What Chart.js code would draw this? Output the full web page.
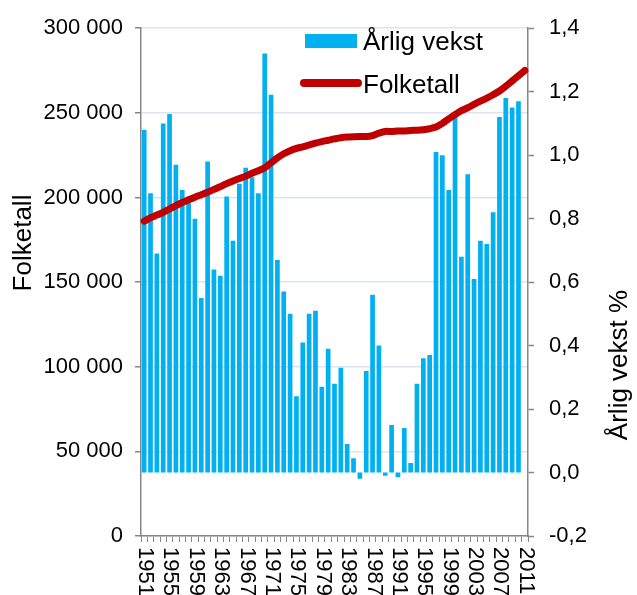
<!DOCTYPE html>
<html>
<head>
<meta charset="utf-8">
<script src="https://cdn.jsdelivr.net/npm/chart.js@4.4.1/dist/chart.umd.min.js"></script>
<style>
  html, body { margin: 0; padding: 0; background: #fff; }
</style>
</head>
<body>
<canvas id="chart" width="637" height="595"></canvas>
<script>
const years = [
  "1951", "1952", "1953", "1954", "1955", "1956", "1957", "1958", "1959", "1960",
  "1961", "1962", "1963", "1964", "1965", "1966", "1967", "1968", "1969", "1970",
  "1971", "1972", "1973", "1974", "1975", "1976", "1977", "1978", "1979", "1980",
  "1981", "1982", "1983", "1984", "1985", "1986", "1987", "1988", "1989", "1990",
  "1991", "1992", "1993", "1994", "1995", "1996", "1997", "1998", "1999", "2000",
  "2001", "2002", "2003", "2004", "2005", "2006", "2007", "2008", "2009", "2010",
  "2011"
];

// årlig vekst i prosent (høyre akse)
const vekst = [
  1.08, 0.88, 0.69, 1.10, 1.13, 0.97, 0.89, 0.85, 0.80, 0.55,
  0.98, 0.64, 0.62, 0.87, 0.73, 0.91, 0.96, 0.93, 0.88, 1.32,
  1.19, 0.67, 0.57, 0.50, 0.24, 0.41, 0.50, 0.51, 0.27, 0.39,
  0.28, 0.33, 0.09, 0.045, -0.02, 0.32, 0.56, 0.40, -0.01, 0.15,
  -0.015, 0.14, 0.03, 0.28, 0.36, 0.37, 1.01, 1.00, 0.89, 1.12,
  0.68, 0.94, 0.61, 0.73, 0.72, 0.82, 1.12, 1.18, 1.15, 1.17,
  null
];

// folketall (venstre akse)
const folketall = [
  186000, 188000, 189600, 191200, 193200, 195200, 197000, 198600, 200200, 201600,
  203100, 204800, 206400, 208200, 209800, 211200, 212600, 214300, 215800, 217600,
  220500, 223400, 225800, 227600, 229000, 229900, 231000, 232100, 233000, 233800,
  234600, 235300, 235700, 235900, 236000, 236000, 236600, 238000, 239000, 239000,
  239300, 239300, 239600, 239700, 240000, 240600, 241600, 243800, 246400, 248900,
  251300, 253000, 255000, 256900, 258700, 260700, 262900, 265700, 268800, 271900,
  275000
];

const labelEvery = 4;
const titleLeft = "Folketall";
const titleRight = "Årlig vekst %";

const FONT = '"Liberation Sans", Arial, sans-serif';
const AXIS_GREY = "#868686";
Chart.defaults.font.family = FONT;
Chart.defaults.color = "#000";

function tusen(v) {
  return String(v).replace(/\B(?=(\d{3})+(?!\d))/g, " ");
}
function komma(v) {
  if (Math.abs(v) < 1e-9) v = 0;
  return v.toFixed(1).replace(".", ",");
}

// årstall (rotert med klokka), aksetitler og forklaring
const extras = {
  id: "extras",
  afterDraw(chart) {
    const ctx = chart.ctx;
    const xs = chart.scales.x;
    ctx.save();
    ctx.fillStyle = "#000";

    ctx.font = "22px " + FONT;
    ctx.textAlign = "left";
    ctx.textBaseline = "middle";
    years.forEach((yr, i) => {
      if (i % labelEvery !== 0) return;
      const px = xs.getPixelForValue(i);
      ctx.save();
      ctx.translate(px + 1, xs.top + 11);
      ctx.rotate(Math.PI / 2);
      ctx.fillText(yr, 0, 0);
      ctx.restore();
    });

    ctx.font = "26px " + FONT;
    ctx.textAlign = "center";
    ctx.save();
    ctx.translate(24, 243);
    ctx.rotate(-Math.PI / 2);
    ctx.fillText(titleLeft, 0, 0);
    ctx.restore();

    ctx.save();
    ctx.translate(620, 365);
    ctx.rotate(-Math.PI / 2);
    ctx.fillText(titleRight, 0, 0);
    ctx.restore();

    // forklaring
    const bar = chart.data.datasets[1];
    const line = chart.data.datasets[0];
    ctx.textAlign = "left";
    ctx.textBaseline = "alphabetic";
    ctx.fillStyle = bar.backgroundColor;
    ctx.fillRect(305, 34, 52, 14);
    ctx.fillStyle = "#000";
    ctx.fillText(bar.label, 363, 50);

    ctx.strokeStyle = line.borderColor;
    ctx.lineWidth = 8;
    ctx.lineCap = "round";
    ctx.beginPath();
    ctx.moveTo(304, 83);
    ctx.lineTo(358, 83);
    ctx.stroke();
    ctx.fillText(line.label, 363, 93);
    ctx.restore();
  }
};

new Chart(document.getElementById("chart"), {
  type: "bar",
  data: {
    labels: years,
    datasets: [
      {
        type: "line",
        label: "Folketall",
        data: folketall,
        yAxisID: "y",
        borderColor: "#c00000",
        borderWidth: 7,
        borderCapStyle: "round",
        pointRadius: 0,
        tension: 0.3,
        order: 0
      },
      {
        type: "bar",
        label: "Årlig vekst",
        data: vekst,
        yAxisID: "y1",
        backgroundColor: "#00b0f0",
        borderWidth: 0,
        barPercentage: 0.74,
        categoryPercentage: 1.0,
        order: 1
      }
    ]
  },
  options: {
    responsive: false,
    animation: false,
    layout: { padding: { top: 24, left: 0, right: 0, bottom: 0 } },
    plugins: { legend: { display: false }, tooltip: { enabled: false } },
    scales: {
      x: {
        offset: true,
        grid: { offset: true, drawOnChartArea: false, tickLength: 6, tickColor: AXIS_GREY, tickWidth: 1 },
        border: { color: AXIS_GREY, width: 1.5 },
        ticks: { display: false },
        afterFit(s) { s.height = 59; }
      },
      y: {
        position: "left",
        min: 0,
        max: 300000,
        ticks: { stepSize: 50000, padding: 12, font: { size: 22 }, color: "#000", callback: v => tusen(v) },
        grid: { color: "#dce4f2", lineWidth: 1.5, tickColor: AXIS_GREY, tickLength: 6, tickWidth: 1.5 },
        border: { color: AXIS_GREY, width: 1.5 },
        afterFit(s) { s.width = 141; }
      },
      y1: {
        position: "right",
        min: -0.2,
        max: 1.4,
        ticks: { stepSize: 0.2, padding: 15, font: { size: 22 }, color: "#000", callback: v => komma(v) },
        grid: { drawOnChartArea: false, tickColor: AXIS_GREY, tickLength: 6, tickWidth: 1.5 },
        border: { color: AXIS_GREY, width: 1.5 },
        afterFit(s) { s.width = 109; }
      }
    }
  },
  plugins: [extras]
});
</script>
</body>
</html>
